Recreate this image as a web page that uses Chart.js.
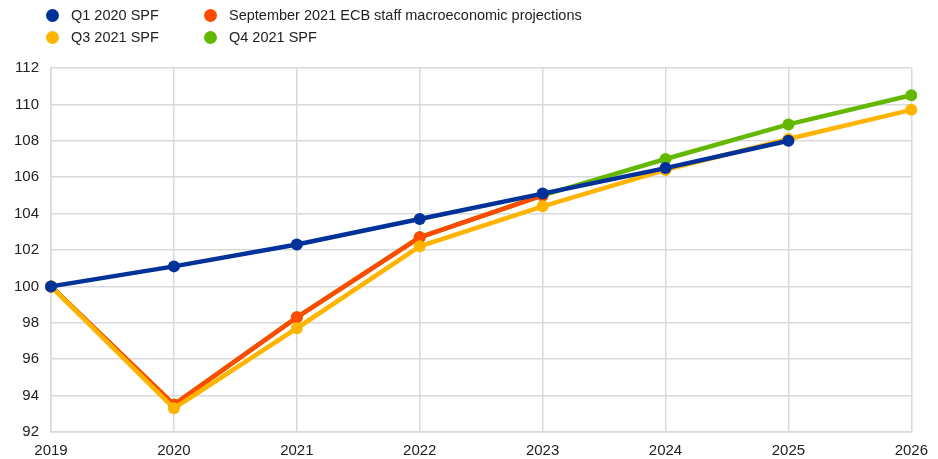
<!DOCTYPE html>
<html>
<head>
<meta charset="utf-8">
<script src="https://cdn.jsdelivr.net/npm/chart.js@4/dist/chart.umd.min.js"></script>
<style>
  body { margin: 0; background: #fff; font-family: "Liberation Sans", Arial, sans-serif; }
  #wrap { position: relative; width: 938px; height: 459px; }
  #legend { position: absolute; left: 46px; top: 6px; display: grid; grid-template-columns: 158px auto; row-gap: 4px; font-size: 14.5px; color: #222; }
  .item { display: flex; align-items: center; height: 18px; }
  .dot { width: 13px; height: 13px; border-radius: 50%; margin-right: 12px; }
</style>
</head>
<body>
<div id="wrap">
  <canvas id="chart" width="938" height="459"></canvas>
  <div id="legend"></div>
</div>
<script>
// projected real GDP index, 2019 = 100
const years = ["2019", "2020", "2021", "2022", "2023", "2024", "2025", "2026"];

const q1_2020 = [100, 101.1, 102.3, 103.7, 105.1, 106.5, 108.0, null];
const ecbSept = [100, 93.5, 98.3, 102.7, 105.0, null, null, null];
const q3_2021 = [100, 93.3, 97.7, 102.2, 104.4, 106.4, 108.1, 109.7];
const q4_2021 = [100, 93.5, 98.3, 102.7, 105.0, 107.0, 108.9, 110.5];

const series = [
  { label: "Q1 2020 SPF", data: q1_2020, color: "#003299", order: 1 },
  { label: "September 2021 ECB staff macroeconomic projections", data: ecbSept, color: "#ff4b00", order: 3 },
  { label: "Q3 2021 SPF", data: q3_2021, color: "#ffb400", order: 2 },
  { label: "Q4 2021 SPF", data: q4_2021, color: "#65b800", order: 4 }
];

// legend in 2 columns like the original (row 1: Q1 / Sept, row 2: Q3 / Q4)
const legend = document.getElementById("legend");
series.forEach(s => {
  const el = document.createElement("div");
  el.className = "item";
  el.innerHTML = `<span class="dot" style="background:${s.color}"></span><span>${s.label}</span>`;
  legend.appendChild(el);
});

Chart.defaults.font.family = '"Liberation Sans", Arial, sans-serif';
Chart.defaults.font.size = 15;
Chart.defaults.color = "#222";

new Chart(document.getElementById("chart"), {
  type: "line",
  data: {
    labels: years,
    datasets: series.map(s => ({
      label: s.label,
      data: s.data,
      borderColor: s.color,
      backgroundColor: s.color,
      borderWidth: 4.5,
      pointRadius: 6,
      pointHoverRadius: 6,
      pointBorderWidth: 0,
      order: s.order,
      spanGaps: false
    }))
  },
  options: {
    responsive: false,
    animation: false,
    layout: { padding: { top: 68, right: 14, left: 2, bottom: -11 } },
    plugins: { legend: { display: false }, tooltip: { enabled: false } },
    scales: {
      x: {
        offset: false,
        grid: { color: "#d9d9d9", lineWidth: 1.5, drawTicks: false },
        border: { color: "#d9d9d9", width: 1.5 },
        ticks: { padding: 10, maxRotation: 0 }
      },
      y: {
        min: 92,
        max: 112,
        grid: { color: "#d9d9d9", lineWidth: 1.5, drawTicks: false },
        border: { color: "#d9d9d9", width: 1.5 },
        ticks: { stepSize: 2, padding: 12 }
      }
    }
  }
});
</script>
</body>
</html>
